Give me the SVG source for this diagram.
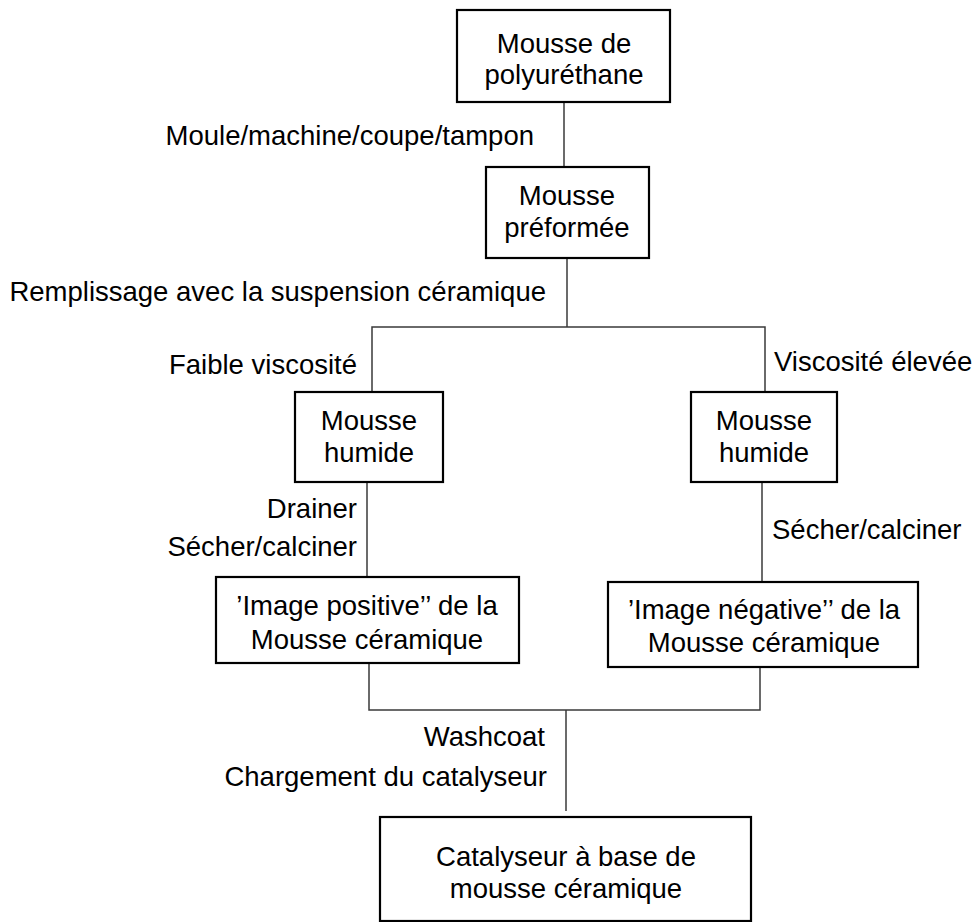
<svg xmlns="http://www.w3.org/2000/svg" width="976" height="922" viewBox="0 0 976 922">
<style>
.box{fill:#fff;stroke:#000;stroke-width:2.2}
.c{fill:none;stroke:#3a3a3a;stroke-width:1.5}
text{font-family:"Liberation Sans",Arial,sans-serif;font-size:27.5px;fill:#000}
.m{text-anchor:middle}
.e{text-anchor:end}
</style>
<rect width="976" height="922" fill="#fff"/>
<g id="connectors">
<path class="c" d="M564 102V167"/>
<path class="c" d="M567 258V327"/>
<path class="c" d="M372 392V327H765V392"/>
<path class="c" d="M367 482V577"/>
<path class="c" d="M762 482V582"/>
<path class="c" d="M369 663V710H760V667"/>
<path class="c" d="M566 710V811"/>
</g>
<g id="labels">
<text class="e" x="534" y="145">Moule/machine/coupe/tampon</text>
<text class="e" x="546" y="301">Remplissage avec la suspension céramique</text>
<text class="e" x="357" y="374">Faible viscosité</text>
<text x="774" y="371">Viscosité élevée</text>
<text class="e" x="357" y="518">Drainer</text>
<text class="e" x="357" y="556">Sécher/calciner</text>
<text x="772" y="539">Sécher/calciner</text>
<text class="e" x="545" y="746">Washcoat</text>
<text class="e" x="547" y="786">Chargement du catalyseur</text>
</g>
<g id="n1">
<rect class="box" x="457" y="10" width="213" height="92"/>
<text class="m" x="564" y="53">Mousse de</text>
<text class="m" x="564" y="84">polyuréthane</text>
</g>
<g id="n2">
<rect class="box" x="486" y="167" width="163" height="91"/>
<text class="m" x="567" y="205">Mousse</text>
<text class="m" x="567" y="237">préformée</text>
</g>
<g id="n3">
<rect class="box" x="295" y="392" width="148" height="90"/>
<text class="m" x="369" y="430">Mousse</text>
<text class="m" x="369" y="462">humide</text>
</g>
<g id="n4">
<rect class="box" x="691" y="392" width="146" height="90"/>
<text class="m" x="764" y="430">Mousse</text>
<text class="m" x="764" y="462">humide</text>
</g>
<g id="n5">
<rect class="box" x="216" y="577" width="303" height="86"/>
<text class="m" x="367" y="615">’Image positive’’ de la</text>
<text class="m" x="367" y="649">Mousse céramique</text>
</g>
<g id="n6">
<rect class="box" x="608" y="582" width="310" height="85"/>
<text class="m" x="764" y="619">’Image négative’’ de la</text>
<text class="m" x="764" y="652">Mousse céramique</text>
</g>
<g id="n7">
<rect class="box" x="380" y="817" width="371" height="104"/>
<text class="m" x="566" y="866">Catalyseur à base de</text>
<text class="m" x="566" y="898">mousse céramique</text>
</g>
</svg>
